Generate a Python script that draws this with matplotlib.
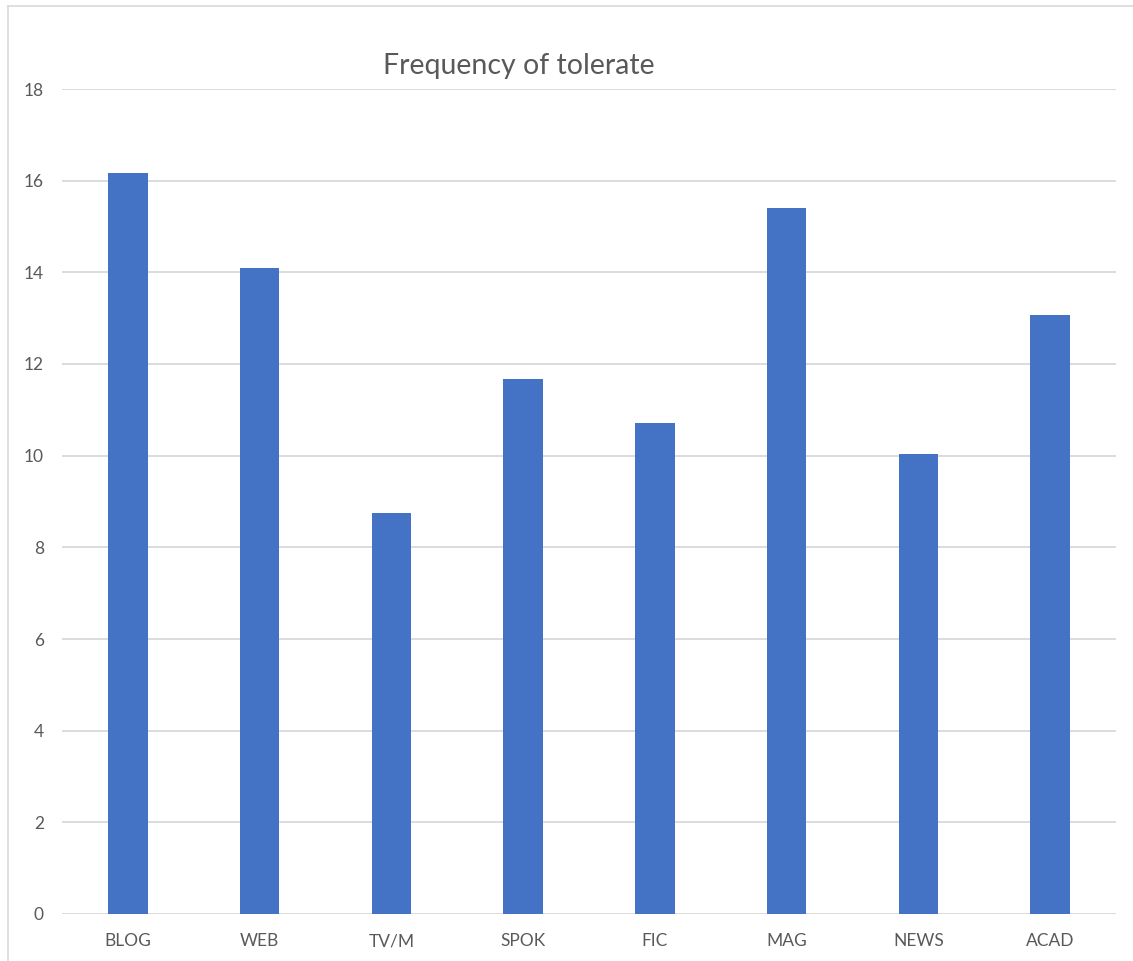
import matplotlib.pyplot as plt
from matplotlib.lines import Line2D

genres = ['BLOG', 'WEB', 'TV/M', 'SPOK', 'FIC', 'MAG', 'NEWS', 'ACAD']
freq = [16.17, 14.10, 8.75, 11.67, 10.71, 15.40, 10.04, 13.07]
yticks = [0, 2, 4, 6, 8, 10, 12, 14, 16, 18]

plt.rcParams['font.family'] = ['Lato', 'DejaVu Sans']

W, H = 1133, 961
fig = plt.figure(figsize=(W / 100, H / 100), dpi=100)
ax = fig.add_axes([62 / W, 47 / H, (1116 - 62) / W, (914 - 89) / H])

x = range(len(genres))
ax.bar(x, freq, width=0.30, color='#4472C4', zorder=3)
ax.set_xlim(-0.5, len(genres) - 0.5)
ax.set_ylim(0, 18)
ax.set_yticks(yticks)
ax.set_xticks(list(x))
ax.set_xticklabels(genres)
ax.grid(axis='y', color='#d9d9d9', linewidth=1.3, zorder=0)
for s in ax.spines.values():
    s.set_visible(False)
ax.tick_params(length=0, colors='#595959', labelsize=12.5)
ax.tick_params(axis='y', pad=13)
ax.tick_params(axis='x', pad=14)

fig.text(519 / W, 1 - 66 / H, 'Frequency of tolerate', ha='center', va='center',
         fontsize=20.5, color='#595959')

# chart frame (left and top edges visible)
fig.add_artist(Line2D([8 / W, 8 / W], [0, 1 - 6 / H], color='#d9d9d9', linewidth=1.2))
fig.add_artist(Line2D([8 / W, 1], [1 - 6 / H, 1 - 6 / H], color='#d9d9d9', linewidth=1.2))

fig.savefig('out.png', dpi=100)
